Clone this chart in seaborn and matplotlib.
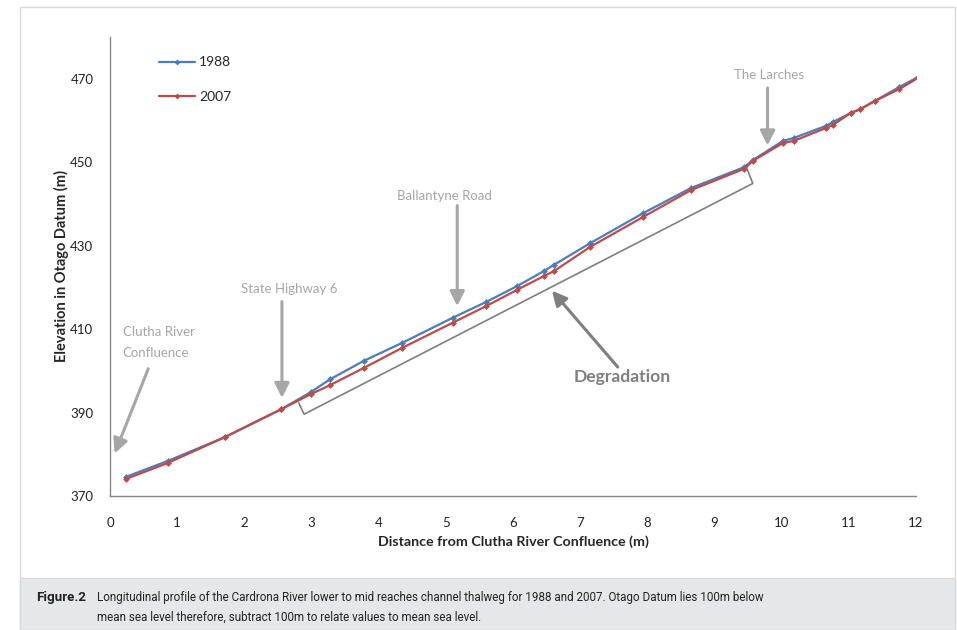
import pandas as pd
import matplotlib.pyplot as plt
import matplotlib.patches as mpatches
from matplotlib.lines import Line2D
import seaborn as sns

# Survey points (distance, elevation)
dist_1988 = [0.24, 0.86, 1.71, 2.55, 2.99, 3.28, 3.78, 4.35, 5.10, 5.60, 6.06, 6.46, 6.61,
             7.15, 7.94, 8.65, 9.44, 9.57, 10.02, 10.18, 10.66, 10.76, 11.03, 11.17, 11.39,
             11.75, 12.03]
elev_1988 = [374.6, 378.4, 384.1, 390.8, 394.9, 398.0, 402.4, 406.7, 412.7, 416.5, 420.3,
             423.9, 425.4, 430.6, 437.8, 443.8, 448.8, 450.5, 455.1, 455.8, 458.7, 459.6,
             461.8, 462.7, 464.7, 468.0, 470.4]
dist_2007 = dist_1988
elev_2007 = [374.1, 377.9, 384.1, 390.8, 394.4, 396.6, 400.7, 405.5, 411.5, 415.5, 419.4,
             422.7, 423.9, 429.7, 436.9, 443.3, 448.4, 450.3, 454.6, 455.1, 458.2, 458.9,
             461.8, 462.7, 464.7, 467.5, 470.2]

years = ['1988', '2007']
colors = ['#4a7ebb', '#be4b48']
x_ticks = list(range(0, 13))
y_ticks = [370, 390, 410, 430, 450, 470]

df = pd.concat([
    pd.DataFrame({'Distance': dist_1988, 'Elevation': elev_1988, 'Year': '1988'}),
    pd.DataFrame({'Distance': dist_2007, 'Elevation': elev_2007, 'Year': '2007'}),
])

sns.set_style('white')
plt.rcParams['font.family'] = ['Lato', 'DejaVu Sans']

fig = plt.figure(figsize=(9.57, 6.3), dpi=100)
ax = fig.add_axes([110 / 957, 1 - 496 / 630, 806 / 957, 459 / 630])

sns.lineplot(data=df, x='Distance', y='Elevation', hue='Year', palette=colors,
             marker='D', markersize=3.5, markeredgewidth=0, linewidth=1.6,
             sort=False, estimator=None, ax=ax)

ax.set_xlim(0, 12)
ax.set_ylim(370, 480)
ax.set_xticks(x_ticks)
ax.set_yticks(y_ticks)
ax.tick_params(axis='both', direction='out', length=4, width=1, color='#868686',
               labelsize=9.5, labelcolor='#222222')
ax.tick_params(axis='x', pad=11)
ax.tick_params(axis='y', pad=8)
for side in ['top', 'right']:
    ax.spines[side].set_visible(False)
for side in ['left', 'bottom']:
    ax.spines[side].set_color('#868686')
    ax.spines[side].set_linewidth(1)

ax.set_xlabel('Distance from Clutha River Confluence (m)', fontsize=10.3, fontweight='bold', labelpad=5)
ax.set_ylabel('Elevation in Otago Datum (m)', fontsize=10.5, fontweight='bold', labelpad=1)

handles = [Line2D([], [], color=c, lw=1.6, marker='D', markersize=3, markeredgewidth=0) for c in colors]
ax.legend(handles, years, loc='upper left', bbox_to_anchor=(0.045, 0.985), frameon=False,
          fontsize=10, handlelength=2.6, handletextpad=0.3, labelspacing=1.6)

# annotations
grey = '#a6a6a6'
dark = '#7f7f7f'
arrow = dict(arrowstyle='-|>', color=grey, lw=2.2, mutation_scale=22, shrinkA=0, shrinkB=0)
ax.annotate('', xy=(0.07, 380.2), xytext=(0.57, 400.5), arrowprops=arrow)
ax.text(0.19, 409.2, 'Clutha River', color=grey, fontsize=9.5, va='center', ha='left')
ax.text(0.19, 404.3, 'Confluence', color=grey, fontsize=9.5, va='center', ha='left')

ax.annotate('', xy=(2.56, 393.5), xytext=(2.56, 416.6), arrowprops=arrow)
ax.text(2.67, 419.6, 'State Highway 6', color=grey, fontsize=9.5, va='center', ha='center')

ax.annotate('', xy=(5.17, 415.5), xytext=(5.17, 439.6), arrowprops=arrow)
ax.text(4.98, 441.9, 'Ballantyne Road', color=grey, fontsize=9.5, va='center', ha='center')

ax.annotate('', xy=(9.79, 454.0), xytext=(9.79, 467.8), arrowprops=arrow)
ax.text(9.81, 471.0, 'The Larches', color=grey, fontsize=9.5, va='center', ha='center')

dark_arrow = dict(arrowstyle='-|>', color=dark, lw=2.2, mutation_scale=22, shrinkA=0, shrinkB=0)
ax.annotate('', xy=(6.58, 419.2), xytext=(7.56, 400.9), arrowprops=dark_arrow)
ax.text(7.62, 398.4, 'Degradation', color=dark, fontsize=12.6, fontweight='bold',
        va='center', ha='center')

# bracket along the degraded reach
bx = [2.81, 2.89, 9.57, 9.48]
by = [392.3, 389.6, 444.9, 448.6]
ax.plot(bx, by, color=dark, lw=1.2)

# frame and caption band
fig.patches.append(mpatches.Rectangle((20 / 957, 0), 935 / 957, 623 / 630, transform=fig.transFigure,
                                      facecolor='none', edgecolor='#d9d9d9', lw=1, zorder=0))
fig.patches.append(mpatches.Rectangle((20 / 957, 0), 935 / 957, 52 / 630, transform=fig.transFigure,
                                      facecolor='#e6e7e8', edgecolor='#d9d9d9', lw=1, zorder=0))
cap_font = ['Roboto', 'DejaVu Sans']
fig.text(36 / 957, 1 - 597 / 630, 'Figure.2', fontsize=9.6, fontweight='bold', va='center',
         family=cap_font, color='#222222')
fig.text(97 / 957, 1 - 597 / 630,
         'Longitudinal profile of the Cardrona River lower to mid reaches channel thalweg for 1988 and 2007. '
         'Otago Datum lies 100m below', fontsize=8.4, va='center', family=cap_font, color='#222222')
fig.text(97 / 957, 1 - 617 / 630, 'mean sea level therefore, subtract 100m to relate values to mean sea level.',
         fontsize=8.4, va='center', family=cap_font, color='#222222')

fig.savefig('out.png', dpi=100)
